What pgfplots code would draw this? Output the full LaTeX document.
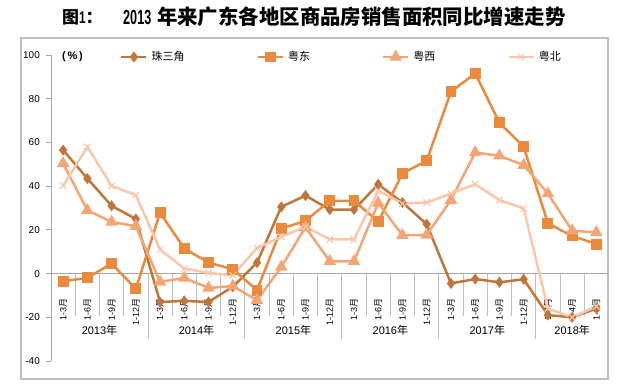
\documentclass[border=0pt]{standalone}
\usepackage{fontspec}
\setmainfont{Liberation Sans}
\newfontfamily\cjk{Noto Sans CJK SC}
\usepackage{pgfplots}
\pgfplotsset{compat=1.18}
\definecolor{cA}{HTML}{C0763A}
\definecolor{cB}{HTML}{EB8A3D}
\definecolor{cC}{HTML}{F5A473}
\definecolor{cD}{HTML}{F9C8AC}
\definecolor{gridgray}{HTML}{A6A6A6}
\definecolor{sepgray}{HTML}{BFBFBF}
\newcommand{\yue}{{\cjk 月}}
\newcommand{\nian}{{\cjk 年}}
\begin{document}
\begin{tikzpicture}[x=1bp,y=1bp]
\path[use as bounding box] (0,0) rectangle (630,390);
\draw[color=sepgray, line width=1.2bp] (21,11) rectangle (608,352);
\node[anchor=west, inner sep=0pt, font=\bfseries\fontsize{17}{20}\selectfont] at (62,373) {{\cjk 图}\scalebox{0.7}[1]{1}{\cjk ：}};
\node[anchor=west, inner sep=0pt, font=\bfseries\fontsize{20.5}{24}\selectfont] at (123,373) {\scalebox{0.62}[1]{2013} {\cjk 年来广东各地区商品房销售面积同比增速走势}};
\begin{axis}[at={(51bp,29bp)}, anchor=south west, scale only axis,
  width=557.5bp, height=306bp,
  xmin=-0.5, xmax=22.5, ymin=-40, ymax=100,
  axis y line=left, axis x line=bottom,
  y axis line style={-, draw=gridgray, line width=0.9bp},
  x axis line style={draw=none},
  ytick={-40,-20,...,100},
  tick align=outside, major tick length=5bp,
  ytick style={draw=gridgray, line width=0.9bp},
  xtick style={draw=none},
  /pgf/number format/assume math mode=true,
  yticklabel style={font=\fontsize{10}{12}\selectfont, inner sep=0pt, xshift=-6bp},
  xtick={0,...,22},
  xticklabels={1-3\yue,1-6\yue,1-9\yue,1-12\yue,1-3\yue,1-6\yue,1-9\yue,1-12\yue,1-3\yue,1-6\yue,1-9\yue,1-12\yue,1-3\yue,1-6\yue,1-9\yue,1-12\yue,1-3\yue,1-6\yue,1-9\yue,1-12\yue,1-3\yue,1-4\yue,1-5\yue},
  xticklabel style={font=\fontsize{9}{11}\selectfont, inner sep=0pt, yshift=68bp, rotate=90, anchor=east},
  clip=false,
  every axis plot/.append style={line width=2.5bp},
  legend style={at={(0.1238,0.9935)}, anchor=west, draw=none, fill=none, inner sep=0pt,
    font=\cjk\fontsize{11}{13}\selectfont, legend columns=4,
    /tikz/every even column/.append style={column sep=70bp},
    /tikz/every odd column/.append style={column sep=2bp}},
  legend image code/.code={\draw[mark repeat=2, mark phase=2] plot coordinates {(0bp,0bp) (12.5bp,0bp) (25bp,0bp)};},
]
\draw[draw=gridgray, line width=0.9bp] (axis cs:-0.5,0) -- (axis cs:22.5,0);
\pgfplotsinvokeforeach{0.5,1.5,2.5,4.5,5.5,6.5,8.5,9.5,10.5,12.5,13.5,14.5,16.5,17.5,18.5,20.5,21.5}{
  \draw[draw=sepgray, line width=0.9bp] (axis cs:#1,0) -- ([yshift=-42bp]axis cs:#1,0);}
\pgfplotsinvokeforeach{3.5,7.5,11.5,15.5,19.5,22.5}{
  \draw[draw=sepgray, line width=0.9bp] (axis cs:#1,0) -- ([yshift=-65bp]axis cs:#1,0);}
\addplot[color=cA, mark=diamond*, mark size=3.5bp] coordinates {
(0,56.5) (1,43.5) (2,31) (3,25) (4,-13) (5,-12.5) (6,-13) (7,-6) (8,5) (9,30.5) (10,35.7) (11,29.3)
(12,29.3) (13,40.8) (14,32.5) (15,22.6) (16,-4.5) (17,-2.5) (18,-4) (19,-2.6) (20,-19) (21,-20) (22,-16)};
\addlegendentry{珠三角}
\addplot[color=cB, mark=square*, mark size=4.2bp] coordinates {
(0,-3.5) (1,-2) (2,4.6) (3,-7) (4,27.8) (5,11.5) (6,5) (7,2) (8,-7.6) (9,20.6) (10,24.1) (11,33.3)
(12,33.3) (13,23.8) (14,45.8) (15,51.6) (16,83.2) (17,91.6) (18,69) (19,58) (20,23) (21,17.2) (22,13.5)};
\addlegendentry{粤东}
\addplot[color=cC, mark=triangle*, mark size=4.8bp] coordinates {
(0,50.4) (1,29) (2,23.6) (3,21.7) (4,-3.8) (5,-2) (6,-6.6) (7,-5.7) (8,-12.2) (9,3) (10,21.2) (11,5.6)
(12,5.6) (13,32.3) (14,17.5) (15,17.7) (16,33.6) (17,55.4) (18,53.9) (19,49.6) (20,36.6) (21,19.6) (22,18.8)};
\addlegendentry{粤西}
\addplot[color=cD, mark=x, mark size=4.5bp, mark options={line width=1.2bp}] coordinates {
(0,40.1) (1,58) (2,40.1) (3,35.9) (4,11) (5,2.3) (6,0.3) (7,-0.8) (8,11.7) (9,16.8) (10,21.4) (11,15.6)
(12,15.6) (13,38) (14,32) (15,32.5) (16,36.6) (17,40.9) (18,33.6) (19,29.8) (20,-16) (21,-20) (22,-15)};
\addlegendentry{粤北}
\node[font=\fontsize{11}{13}\selectfont] at (axis cs:1.5,-26) {2013\nian};
\node[font=\fontsize{11}{13}\selectfont] at (axis cs:5.5,-26) {2014\nian};
\node[font=\fontsize{11}{13}\selectfont] at (axis cs:9.5,-26) {2015\nian};
\node[font=\fontsize{11}{13}\selectfont] at (axis cs:13.5,-26) {2016\nian};
\node[font=\fontsize{11}{13}\selectfont] at (axis cs:17.5,-26) {2017\nian};
\node[font=\fontsize{11}{13}\selectfont] at (axis cs:21,-26) {2018\nian};
\end{axis}
\node[anchor=west, inner sep=0pt, font=\bfseries\fontsize{11}{13}\selectfont] at (62,333) {(\,\%\,)};
\end{tikzpicture}
\end{document}
